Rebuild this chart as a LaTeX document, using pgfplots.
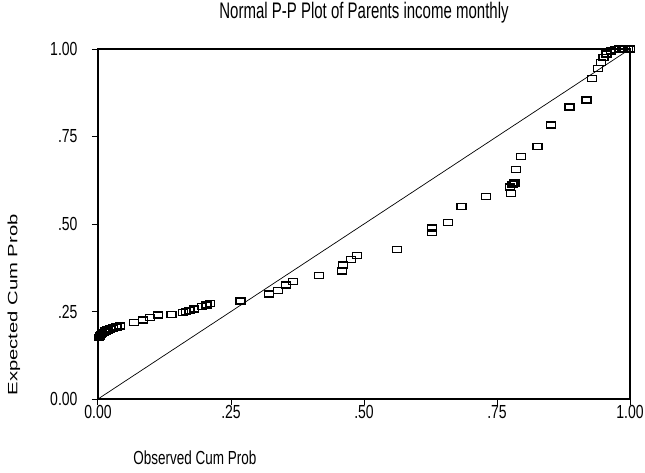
\documentclass[border=0pt]{standalone}
\usepackage{graphicx}
\usepackage{pgfplots}
\pgfplotsset{compat=1.18}
\usepackage{fontspec}
\setmainfont{Liberation Sans}
\usetikzlibrary{calc}
\newcommand\vs[1]{\scalebox{1}[1.35]{#1}}
\pgfdeclareplotmark{hrect}{%
  \pgfpathrectangle{\pgfpoint{-4.5pt}{-3pt}}{\pgfpoint{9pt}{6pt}}%
  \pgfusepathqstroke}
\begin{document}
\begin{tikzpicture}
\begin{axis}[
  name=ax,
  width=532pt, height=350pt, scale only axis,
  xmin=0, xmax=1, ymin=0, ymax=1,
  clip=false,
  axis line style={line width=1.3pt},
  xtick={0,0.25,0.5,0.75,1}, xticklabels={\vs{0.00},\vs{.25},\vs{.50},\vs{.75},\vs{1.00}},
  ytick={0,0.25,0.5,0.75,1}, yticklabels={\vs{0.00},\vs{.25},\vs{.50},\vs{.75},\vs{1.00}},
  xtick pos=left, ytick pos=left,
  tick align=outside,
  major tick length=6pt,
  tick style={line width=1pt, black},
  ticklabel style={font=\fontsize{14}{15}\selectfont},
  xticklabel style={yshift=3pt},
  yticklabel style={xshift=-11pt},
  title={\scalebox{1}[1.5]{Normal P-P Plot of Parents income monthly}},
  title style={font=\fontsize{15}{17}\selectfont, at={(axis description cs:0.5,1)}, anchor=base, yshift=25pt},
  xlabel={\scalebox{1}[1.4]{Observed Cum Prob}},
  xlabel style={font=\fontsize{13.5}{15}\selectfont, at={(axis description cs:0.06,-0.186)}, anchor=base west},
  ylabel={\scalebox{1.5}[1]{Expected Cum Prob}},
  ylabel style={font=\fontsize{13.5}{15}\selectfont, at={(axis description cs:-0.158,0)}, anchor=west},
]
\addplot[black, line width=0.7pt] coordinates {(0,0) (1,1)};
\addplot[only marks, mark=hrect, mark options={line width=1.3pt, black}] table {
x y
0.002 0.175
0.004 0.180
0.006 0.184
0.008 0.188
0.011 0.191
0.014 0.194
0.018 0.197
0.023 0.200
0.028 0.203
0.035 0.206
0.042 0.209
0.068 0.219
0.085 0.226
0.098 0.232
0.113 0.240
0.138 0.242
0.160 0.248
0.166 0.251
0.172 0.253
0.181 0.257
0.196 0.265
0.204 0.269
0.210 0.273
0.268 0.280
0.321 0.300
0.338 0.310
0.354 0.326
0.366 0.336
0.416 0.352
0.458 0.366
0.461 0.383
0.476 0.398
0.487 0.410
0.562 0.428
0.628 0.475
0.628 0.489
0.658 0.504
0.683 0.550
0.729 0.578
0.776 0.588
0.775 0.606
0.779 0.612
0.783 0.617
0.786 0.655
0.795 0.693
0.826 0.721
0.852 0.783
0.886 0.834
0.918 0.854
0.929 0.915
0.940 0.944
0.945 0.962
0.950 0.976
0.956 0.986
0.964 0.994
0.972 0.999
0.980 1.0
0.986 1.0
0.991 1.0
0.996 1.0
1.000 1.0
};
\end{axis}
\pgfresetboundingbox
\path ($(ax.south west)+(-98pt,-73pt)$) rectangle ($(ax.north east)+(15pt,49pt)$);
\end{tikzpicture}
\end{document}
